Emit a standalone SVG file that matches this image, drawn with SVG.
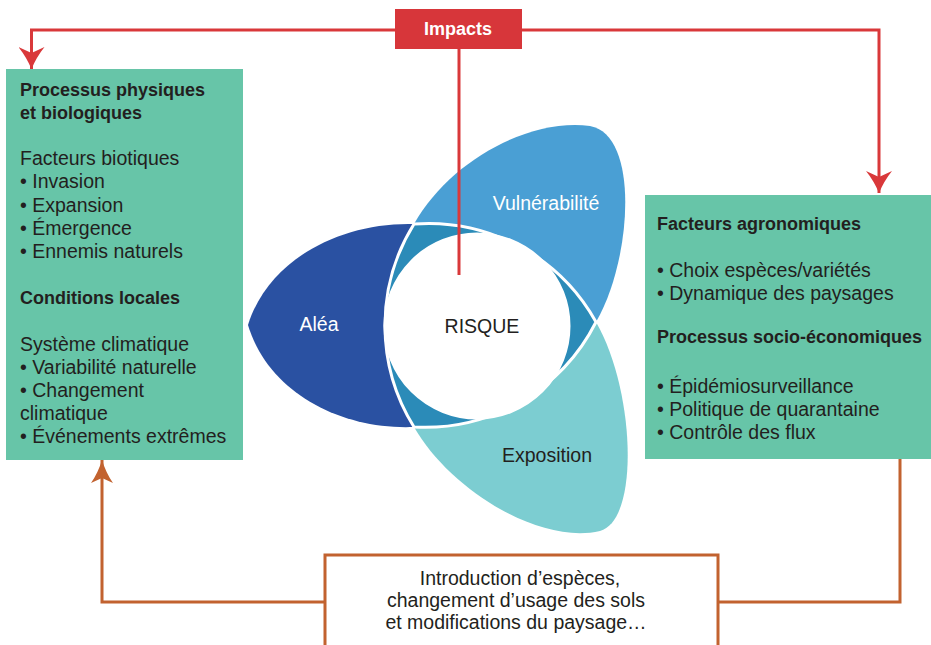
<svg xmlns="http://www.w3.org/2000/svg" width="931" height="645" viewBox="0 0 931 645">
  <style>
    .box { fill: #67c5a8; }
    .t { font-family: "Liberation Sans", Arial, sans-serif; font-size: 19.5px; fill: #231f20; }
    .h { font-family: "Liberation Sans", Arial, sans-serif; font-size: 18px; font-weight: bold; fill: #231f20; }
    .w { fill: #ffffff; }
    .red { fill: none; stroke: #d9383a; stroke-width: 3; }
    .orange { fill: none; stroke: #c2622f; stroke-width: 3; }
  </style>
  <defs>
    <marker id="arrRed" markerUnits="userSpaceOnUse" viewBox="0 0 22 26" refX="22" refY="13" markerWidth="22" markerHeight="26" orient="auto">
      <path d="M0,0 Q10,8 22,13 Q10,18 0,26 L6,13 Z" fill="#d9383a"/>
    </marker>
    <marker id="arrOrange" markerUnits="userSpaceOnUse" viewBox="0 0 23 22" refX="23" refY="11" markerWidth="23" markerHeight="22" orient="auto">
      <path d="M0,0 Q10,7 23,11 Q10,15 0,22 L5,11 Z" fill="#c2622f"/>
    </marker>
  </defs>

  <g id="risk-diagram">
    <path id="alea" d="M414,224 C340,222 268,260 248,325 C268,392 340,430 414,427 Z" fill="#2a51a2"/>
    <path id="vulnerabilite" d="M414,224 C450,160 530,118 590,126 C640,135 632,260 596,322 Z" fill="#4a9fd4"/>
    <path id="exposition" d="M596,322 C635,390 640,520 600,531 C540,545 450,490 414,427 Z" fill="#7ccdd1"/>
    <path id="overlap" d="M414,224 A192,192 0 0 1 596,322 A192,192 0 0 1 414,427 A192,192 0 0 1 414,224 Z" fill="#2b8bb8" stroke="#ffffff" stroke-width="3"/>
    <circle id="risque" cx="477" cy="326" r="92" fill="#ffffff" stroke="#ffffff" stroke-width="3"/>
    <text class="t w" x="546" y="210" text-anchor="middle">Vulnérabilité</text>
    <text class="t w" x="319" y="331" text-anchor="middle">Aléa</text>
    <text class="t" x="482" y="333" text-anchor="middle">RISQUE</text>
    <text class="t" x="547" y="462" text-anchor="middle">Exposition</text>
  </g>

  <g id="connectors">
    <path class="red" d="M395,30 H31.5 V69" marker-end="url(#arrRed)"/>
    <path class="red" d="M522,30 H879 V193" marker-end="url(#arrRed)"/>
    <path class="red" d="M459,49 V275"/>
    <path class="orange" d="M325,602 H102 V460" marker-end="url(#arrOrange)"/>
    <path class="orange" d="M900,459 V602 H718"/>
  </g>

  <g id="impacts">
    <rect x="395" y="9" width="127" height="40" fill="#d7363a"/>
    <text class="h w" x="458" y="35" text-anchor="middle">Impacts</text>
  </g>

  <g id="processus-physiques">
    <rect class="box" x="6" y="69" width="237" height="391"/>
    <text class="h" x="20" y="95.5">Processus physiques</text>
    <text class="h" x="20" y="118.5">et biologiques</text>
    <text class="t" x="20" y="165">Facteurs biotiques</text>
    <text class="t" x="20" y="188">• Invasion</text>
    <text class="t" x="20" y="211.5">• Expansion</text>
    <text class="t" x="20" y="234.5">• Émergence</text>
    <text class="t" x="20" y="258">• Ennemis naturels</text>
    <text class="h" x="20" y="304">Conditions locales</text>
    <text class="t" x="20" y="350.5">Système climatique</text>
    <text class="t" x="20" y="373.5">• Variabilité naturelle</text>
    <text class="t" x="20" y="397">• Changement</text>
    <text class="t" x="20" y="420">climatique</text>
    <text class="t" x="20" y="443">• Événements extrêmes</text>
  </g>

  <g id="facteurs-agronomiques">
    <rect class="box" x="645" y="195" width="290" height="264"/>
    <text class="h" x="657" y="230">Facteurs agronomiques</text>
    <text class="t" x="657" y="276.5">• Choix espèces/variétés</text>
    <text class="t" x="657" y="299.5">• Dynamique des paysages</text>
    <text class="h" x="657" y="343">Processus socio-économiques</text>
    <text class="t" x="657" y="393">• Épidémiosurveillance</text>
    <text class="t" x="657" y="416">• Politique de quarantaine</text>
    <text class="t" x="657" y="439">• Contrôle des flux</text>
  </g>

  <g id="introduction">
    <rect x="325" y="555" width="393" height="100" fill="#ffffff" stroke="#c2622f" stroke-width="3"/>
    <text class="t" x="520" y="585" text-anchor="middle">Introduction d’espèces,</text>
    <text class="t" x="516" y="607" text-anchor="middle">changement d’usage des sols</text>
    <text class="t" x="516" y="629" text-anchor="middle">et modifications du paysage…</text>
  </g>
</svg>
